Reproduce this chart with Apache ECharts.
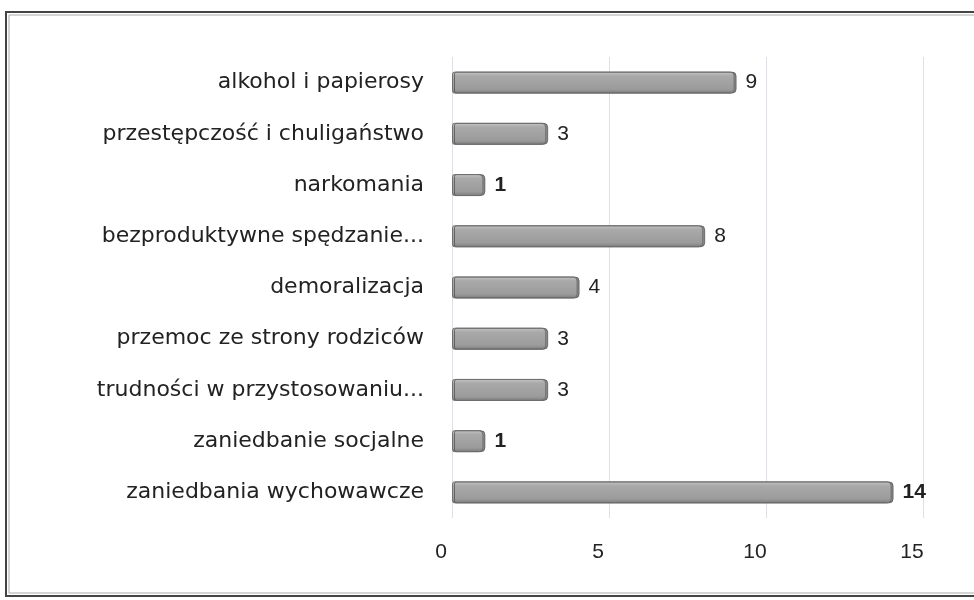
<!DOCTYPE html>
<html>
<head>
<meta charset="utf-8">
<script src="https://cdn.jsdelivr.net/npm/echarts@6/dist/echarts.min.js"></script>
<style>
  html, body { margin: 0; padding: 0; background: #fff; }
  #main { width: 974px; height: 600px; }
</style>
</head>
<body>
<div id="main"></div>
<script>
// dane z wykresu (od góry)
const categories = [
  "alkohol i papierosy",
  "przestępczość i chuligaństwo",
  "narkomania",
  "bezproduktywne spędzanie...",
  "demoralizacja",
  "przemoc ze strony rodziców",
  "trudności w przystosowaniu...",
  "zaniedbanie socjalne",
  "zaniedbania wychowawcze"
];
const values = [9, 3, 1, 8, 4, 3, 3, 1, 14];
const boldLabels = [false, false, true, false, false, false, false, true, true];
const xTicks = [0, 5, 10, 15];

const numFont = "'Liberation Sans', Arial";

const chart = echarts.init(document.getElementById("main"));

const option = {
  backgroundColor: "#fff",
  animation: false,
  grid: { left: 452, right: 51, top: 57, bottom: 82 },
  graphic: [
    {
      type: "rect",
      shape: { x: 6, y: 12, width: 990, height: 584 },
      style: { fill: "none", stroke: "#444", lineWidth: 2 }
    },
    {
      type: "rect",
      shape: { x: 9, y: 15, width: 990, height: 578 },
      style: { fill: "none", stroke: "#aaa", lineWidth: 1 }
    }
  ],
  xAxis: {
    type: "value",
    min: xTicks[0],
    max: xTicks[xTicks.length - 1],
    interval: 5,
    axisLine: { show: false },
    axisTick: { show: false },
    axisLabel: {
      margin: 24,
      padding: [0, 22, 0, 0],
      fontFamily: numFont,
      fontSize: 21,
      color: "#222",
      formatter: v => (xTicks.includes(v) ? String(v) : "")
    },
    splitLine: { show: true, lineStyle: { color: "#dde1e6", width: 1 } }
  },
  yAxis: {
    type: "category",
    inverse: true,
    data: categories,
    axisLine: { show: false },
    axisTick: { show: false },
    axisLabel: {
      margin: 28,
      fontFamily: "DejaVu Sans",
      fontSize: 22,
      color: "#222"
    }
  },
  series: [
    {
      type: "bar",
      barWidth: 22,
      data: values.map((v, i) => ({
        value: v,
        label: { fontWeight: boldLabels[i] ? "bold" : "normal" }
      })),
      itemStyle: {
        color: new echarts.graphic.LinearGradient(0, 0, 0, 1, [
          { offset: 0, color: "#c6c6c6" },
          { offset: 0.2, color: "#a9a9a9" },
          { offset: 0.8, color: "#9b9b9b" },
          { offset: 1, color: "#7a7a7a" }
        ]),
        borderColor: "#707070",
        borderWidth: 1,
        borderRadius: [2, 4, 4, 2],
        shadowColor: "rgba(60,60,60,0.6)",
        shadowOffsetX: 2,
        shadowBlur: 0
      },
      label: {
        show: true,
        position: "right",
        distance: 11,
        fontFamily: numFont,
        fontSize: 21,
        color: "#222"
      }
    }
  ]
};

chart.setOption(option);
</script>
</body>
</html>
